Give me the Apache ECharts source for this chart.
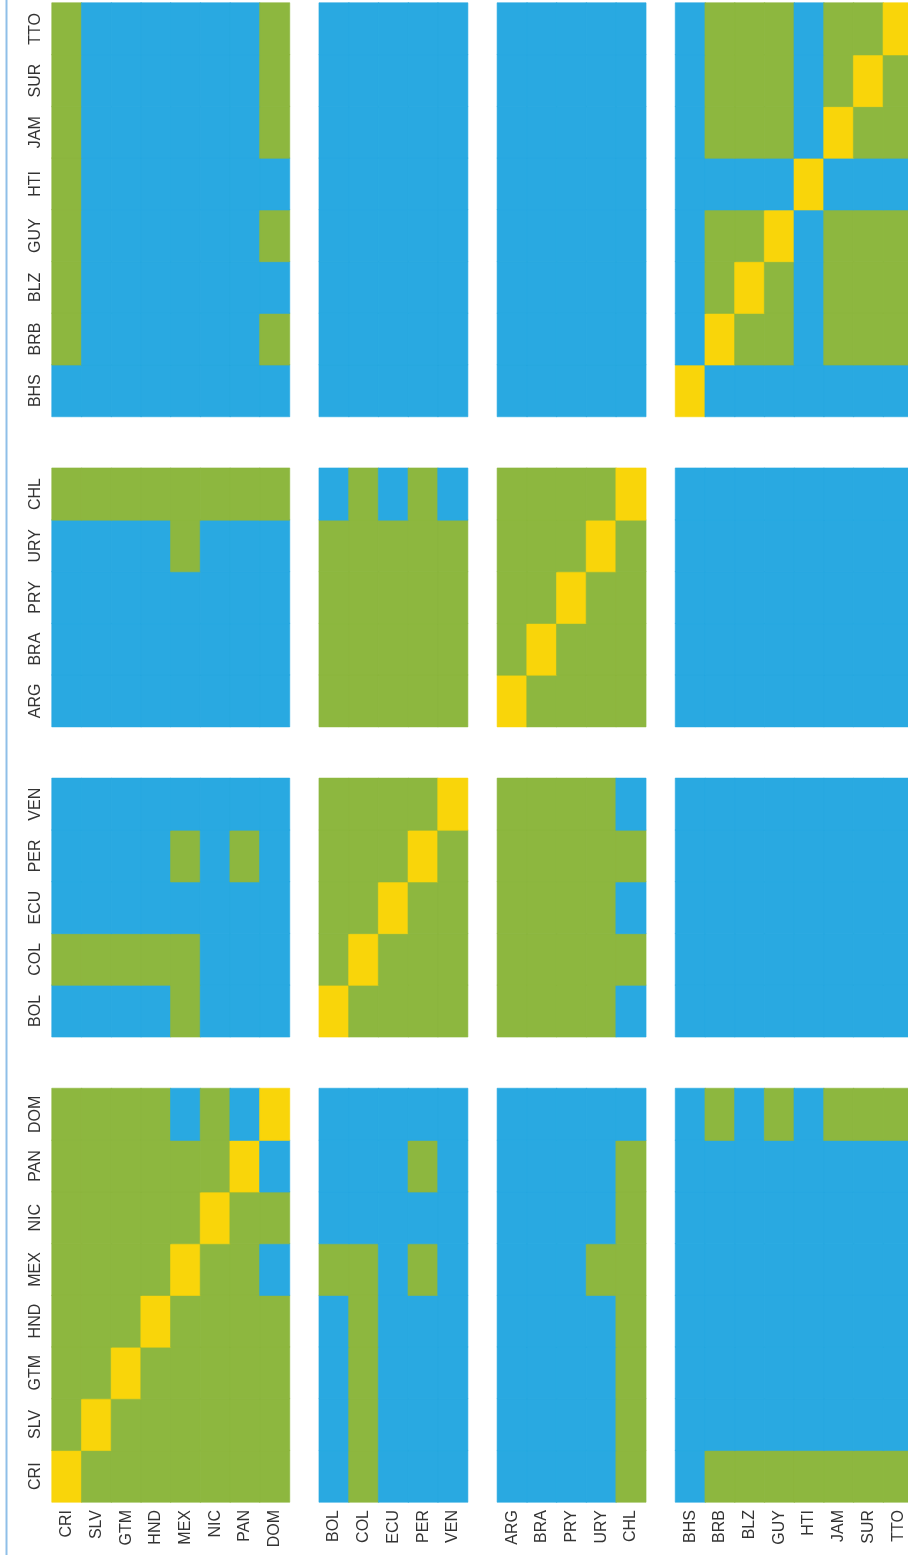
<!DOCTYPE html>
<html>
<head>
<meta charset="utf-8">
<script src="https://cdn.jsdelivr.net/npm/echarts@6/dist/echarts.min.js"></script>
<style>
  html, body { margin: 0; padding: 0; background: #fff; }
  #chart { width: 908px; height: 1558px; }
</style>
</head>
<body>
<div id="chart"></div>
<script>
// country groups, in axis order (x left->right, y bottom->top)
const centralAmerica = ['CRI', 'SLV', 'GTM', 'HND', 'MEX', 'NIC', 'PAN', 'DOM']
const andean = ['BOL', 'COL', 'ECU', 'PER', 'VEN']
const southernCone = ['ARG', 'BRA', 'PRY', 'URY', 'CHL']
const caribbean = ['BHS', 'BRB', 'BLZ', 'GUY', 'HTI', 'JAM', 'SUR', 'TTO']
const groups = [centralAmerica, andean, southernCone, caribbean]

// 0 = no link (blue), 1 = link (green), 2 = same country (yellow)
const linkColors = ['#29a9e1', '#8db73f', '#f9d50a']

// one row per y country, values follow the x order
const linkRows = [
  /* CRI */ [2,1,1,1,1,1,1,1, 0,1,0,0,0, 0,0,0,0,1, 0,1,1,1,1,1,1,1],
  /* SLV */ [1,2,1,1,1,1,1,1, 0,1,0,0,0, 0,0,0,0,1, 0,0,0,0,0,0,0,0],
  /* GTM */ [1,1,2,1,1,1,1,1, 0,1,0,0,0, 0,0,0,0,1, 0,0,0,0,0,0,0,0],
  /* HND */ [1,1,1,2,1,1,1,1, 0,1,0,0,0, 0,0,0,0,1, 0,0,0,0,0,0,0,0],
  /* MEX */ [1,1,1,1,2,1,1,0, 1,1,0,1,0, 0,0,0,1,1, 0,0,0,0,0,0,0,0],
  /* NIC */ [1,1,1,1,1,2,1,1, 0,0,0,0,0, 0,0,0,0,1, 0,0,0,0,0,0,0,0],
  /* PAN */ [1,1,1,1,1,1,2,0, 0,0,0,1,0, 0,0,0,0,1, 0,0,0,0,0,0,0,0],
  /* DOM */ [1,1,1,1,0,1,0,2, 0,0,0,0,0, 0,0,0,0,0, 0,1,0,1,0,1,1,1],
  /* BOL */ [0,0,0,0,1,0,0,0, 2,1,1,1,1, 1,1,1,1,0, 0,0,0,0,0,0,0,0],
  /* COL */ [1,1,1,1,1,0,0,0, 1,2,1,1,1, 1,1,1,1,1, 0,0,0,0,0,0,0,0],
  /* ECU */ [0,0,0,0,0,0,0,0, 1,1,2,1,1, 1,1,1,1,0, 0,0,0,0,0,0,0,0],
  /* PER */ [0,0,0,0,1,0,1,0, 1,1,1,2,1, 1,1,1,1,1, 0,0,0,0,0,0,0,0],
  /* VEN */ [0,0,0,0,0,0,0,0, 1,1,1,1,2, 1,1,1,1,0, 0,0,0,0,0,0,0,0],
  /* ARG */ [0,0,0,0,0,0,0,0, 1,1,1,1,1, 2,1,1,1,1, 0,0,0,0,0,0,0,0],
  /* BRA */ [0,0,0,0,0,0,0,0, 1,1,1,1,1, 1,2,1,1,1, 0,0,0,0,0,0,0,0],
  /* PRY */ [0,0,0,0,0,0,0,0, 1,1,1,1,1, 1,1,2,1,1, 0,0,0,0,0,0,0,0],
  /* URY */ [0,0,0,0,1,0,0,0, 1,1,1,1,1, 1,1,1,2,1, 0,0,0,0,0,0,0,0],
  /* CHL */ [1,1,1,1,1,1,1,1, 0,1,0,1,0, 1,1,1,1,2, 0,0,0,0,0,0,0,0],
  /* BHS */ [0,0,0,0,0,0,0,0, 0,0,0,0,0, 0,0,0,0,0, 2,0,0,0,0,0,0,0],
  /* BRB */ [1,0,0,0,0,0,0,1, 0,0,0,0,0, 0,0,0,0,0, 0,2,1,1,0,1,1,1],
  /* BLZ */ [1,0,0,0,0,0,0,0, 0,0,0,0,0, 0,0,0,0,0, 0,1,2,1,0,1,1,1],
  /* GUY */ [1,0,0,0,0,0,0,1, 0,0,0,0,0, 0,0,0,0,0, 0,1,1,2,0,1,1,1],
  /* HTI */ [1,0,0,0,0,0,0,0, 0,0,0,0,0, 0,0,0,0,0, 0,0,0,0,2,0,0,0],
  /* JAM */ [1,0,0,0,0,0,0,1, 0,0,0,0,0, 0,0,0,0,0, 0,1,1,1,0,2,1,1],
  /* SUR */ [1,0,0,0,0,0,0,1, 0,0,0,0,0, 0,0,0,0,0, 0,1,1,1,0,1,2,1],
  /* TTO */ [1,0,0,0,0,0,0,1, 0,0,0,0,0, 0,0,0,0,0, 0,1,1,1,0,1,1,2]
]

// axis categories with an empty slot between groups
const axisCats = []
const slotOf = []
groups.forEach((g, gi) => {
  if (gi > 0) axisCats.push('_gap' + gi)
  g.forEach((c) => {
    slotOf.push(axisCats.length)
    axisCats.push(c)
  })
})

const cells = []
linkRows.forEach((row, yi) => {
  row.forEach((v, xi) => {
    cells.push({
      value: [slotOf[xi], slotOf[yi], v],
      // same-colour border hides the hairline seams between cells
      itemStyle: { borderColor: linkColors[v], borderWidth: 0.6 }
    })
  })
})

const labelStyle = {
  rotate: 90,
  color: '#333',
  fontFamily: 'Liberation Sans, Arial, sans-serif',
  fontSize: 16,
  margin: 8,
  interval: 0,
  formatter: (name) => (name.startsWith('_gap') ? '' : name)
}

const chart = echarts.init(document.getElementById('chart'))
chart.setOption({
  backgroundColor: '#fff',
  animation: false,
  grid: { left: 52, top: 3, width: 861, height: 1499, outerBoundsMode: 'none', containLabel: false },
  xAxis: {
    type: 'category',
    data: axisCats,
    axisLine: { show: false },
    axisTick: { show: false },
    splitLine: { show: false },
    axisLabel: labelStyle
  },
  yAxis: {
    type: 'category',
    data: axisCats,
    axisLine: { show: false },
    axisTick: { show: false },
    splitLine: { show: false },
    axisLabel: labelStyle
  },
  visualMap: {
    show: false,
    type: 'piecewise',
    dimension: 2,
    pieces: linkColors.map((color, i) => ({ value: i, color }))
  },
  graphic: [
    {
      type: 'line',
      shape: { x1: 6.5, y1: 0, x2: 6.5, y2: 1555 },
      style: { stroke: '#8fbfe8', lineWidth: 2 }
    }
  ],
  series: [
    {
      type: 'heatmap',
      data: cells,
      emphasis: { disabled: true }
    }
  ]
})
</script>
</body>
</html>
